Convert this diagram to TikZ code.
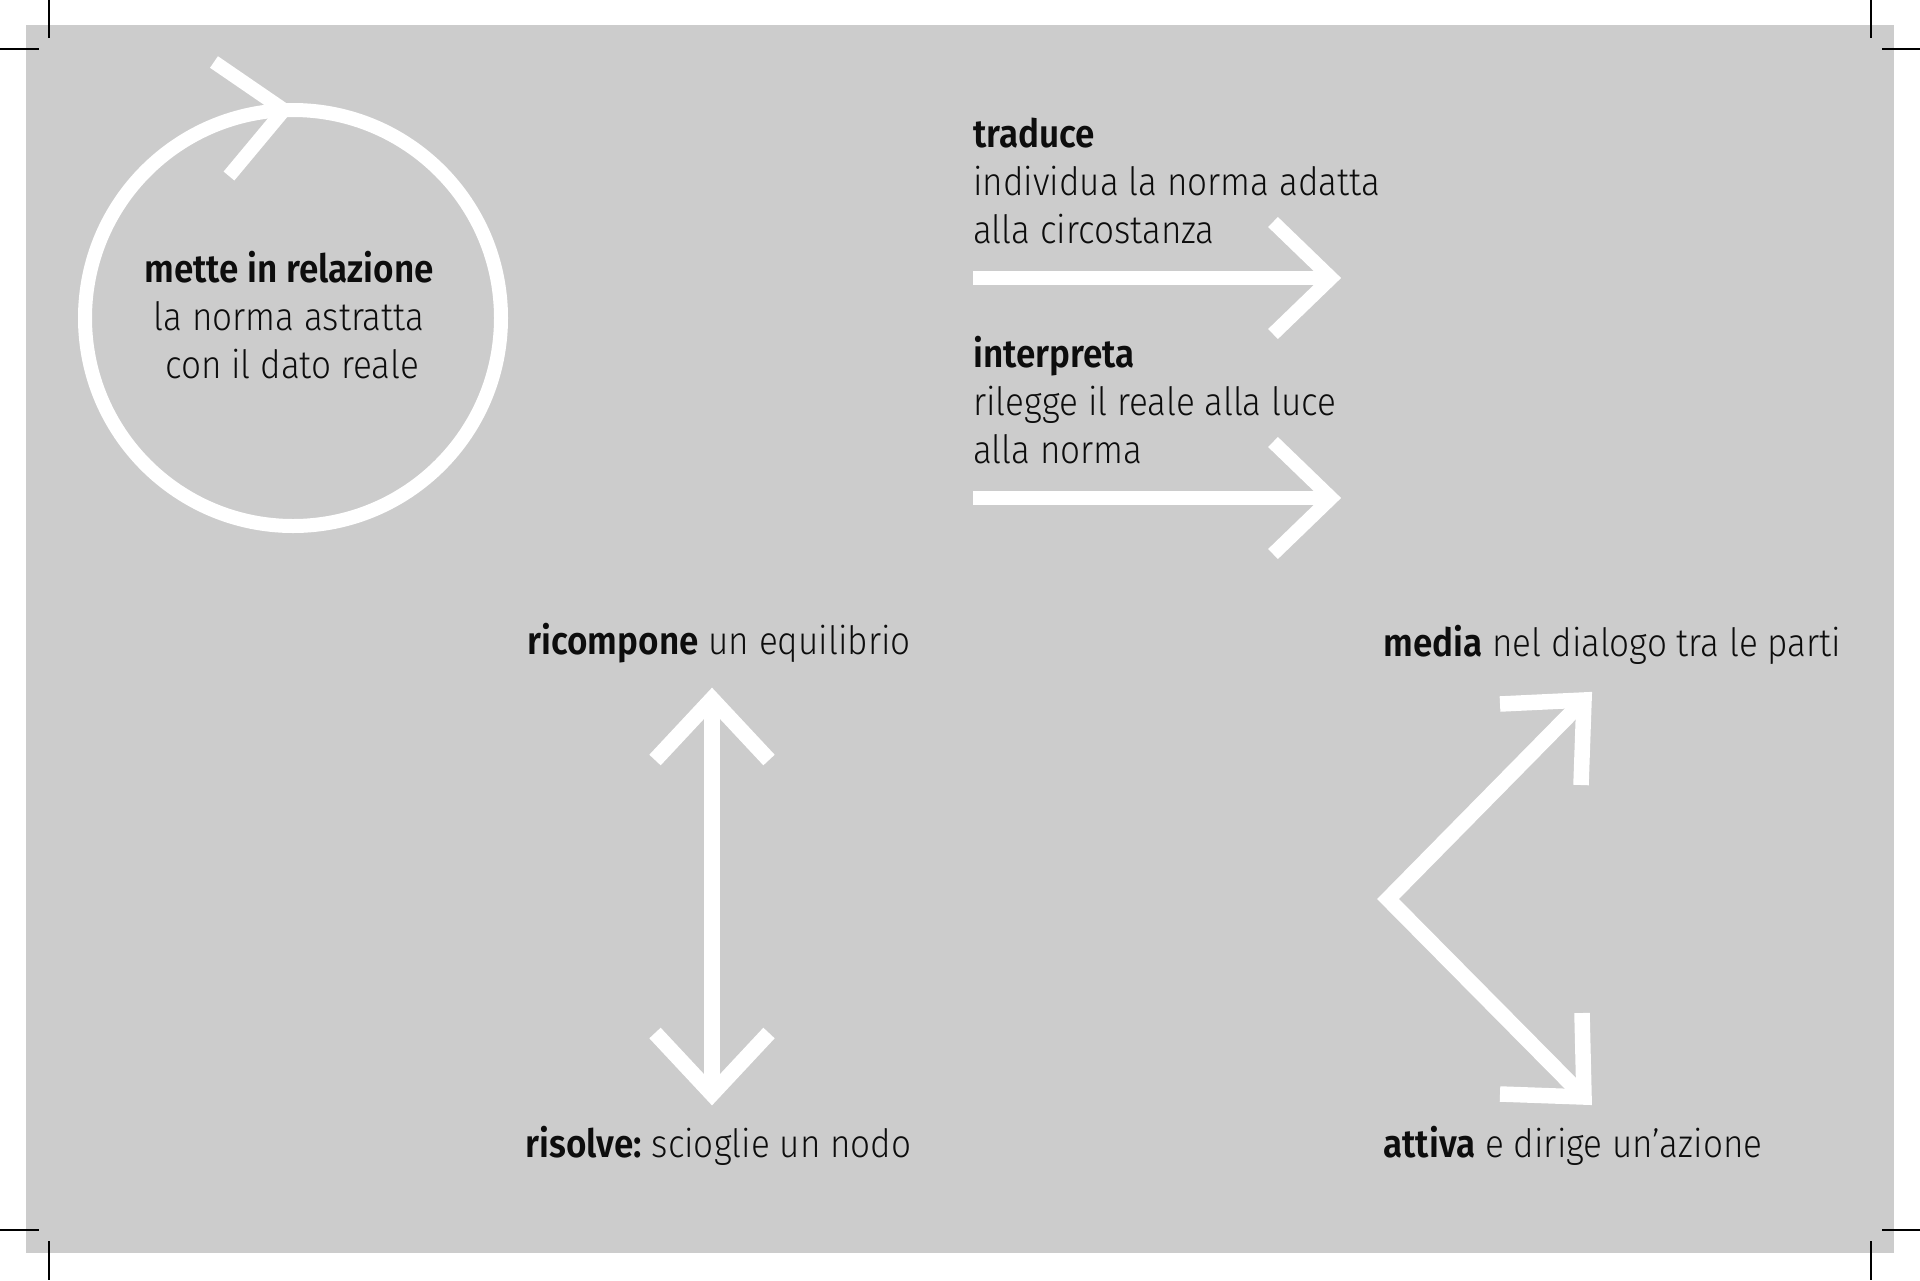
\documentclass[tikz,border=0pt]{standalone}
\usepackage{fontspec}
\setmainfont{Fira Sans}[UprightFont=* Light, BoldFont=* SemiBold, FakeStretch=0.9]
\definecolor{bg}{gray}{0.8}
\definecolor{ink}{gray}{0.05}
\frenchspacing
\begin{document}
\begin{tikzpicture}[x=0.5pt,y=-0.5pt,
  arrowline/.style={draw=white, line width=7pt, line join=miter, miter limit=10},
  thickarrow/.style={arrowline, line width=7.75pt},
  cropmark/.style={draw=black, line width=0.8pt},
  txt/.style={inner sep=0pt, text=ink, font=\fontsize{19.5pt}{24pt}\selectfont},
  lbl/.style={txt, anchor=base west},
  clbl/.style={txt, anchor=base}]
\useasboundingbox (0,0) rectangle (1920,1280);
\fill[bg] (26,25) rectangle (1894,1253);
% crop marks
\draw[cropmark] (49,0) -- (49,38);
\draw[cropmark] (0,49) -- (39,49);
\draw[cropmark] (1871,0) -- (1871,38);
\draw[cropmark] (1882,49) -- (1920,49);
\draw[cropmark] (0,1230) -- (39,1230);
\draw[cropmark] (49,1241) -- (49,1280);
\draw[cropmark] (1882,1230) -- (1920,1230);
\draw[cropmark] (1871,1241) -- (1871,1280);
% circle with arrowhead
\coordinate (cc) at (293,318);
\draw[arrowline] (cc) circle[radius=208];
\coordinate (ca1) at (214,62);
\coordinate (ct) at (284,110);
\coordinate (ca2) at (229,176);
\draw[arrowline] (ca1) -- (ct) -- (ca2);
\node[clbl, font=\fontsize{19.5pt}{24pt}\selectfont\bfseries] (m1) at (289,282) {mette in relazione};
\node[clbl] (m2) at (289,330) {la norma astratta};
\node[clbl] (m3) at (292,378) {con il dato reale};
% traduce block
\node[lbl, font=\fontsize{19.5pt}{24pt}\selectfont\bfseries] (t1) at (973,147) {traduce};
\node[lbl] (t2) at (973,195) {individua la norma adatta};
\node[lbl] (t3) at (973,243) {alla circostanza};
\coordinate (h1s) at (973,278);
\coordinate (h1t) at (1331,278);
\coordinate (h1a) at (1273,222);
\coordinate (h1b) at (1273,334);
\draw[arrowline] (h1s) -- (h1t);
\draw[arrowline] (h1a) -- (h1t) -- (h1b);
% interpreta block
\node[lbl, font=\fontsize{19.5pt}{24pt}\selectfont\bfseries] (i1) at (973,367) {interpreta};
\node[lbl] (i2) at (973,415) {rilegge il reale alla luce};
\node[lbl] (i3) at (973,463) {alla norma};
\coordinate (h2s) at (973,498);
\coordinate (h2t) at (1331,498);
\coordinate (h2a) at (1273,442);
\coordinate (h2b) at (1273,554);
\draw[arrowline] (h2s) -- (h2t);
\draw[arrowline] (h2a) -- (h2t) -- (h2b);
% vertical double arrow
\node[lbl] (r1) at (527,654) {\textbf{ricompone} un equilibrio};
\node[lbl] (r2) at (525,1157) {\textbf{risolve:} scioglie un nodo};
\coordinate (vt) at (712,699);
\coordinate (vb) at (712,1094);
\draw[thickarrow] (vt) -- (vb);
\draw[thickarrow] (655,760) -- (vt) -- (769,760);
\draw[thickarrow] (655,1033) -- (vb) -- (769,1033);
% diagonal arrows
\node[lbl] (d1) at (1383,656) {\textbf{media} nel dialogo tra le parti};
\node[lbl] (d2) at (1383,1157) {\textbf{attiva} e dirige un’azione};
\coordinate (dv) at (1388,899);
\coordinate (du) at (1584,700);
\coordinate (dl) at (1584,1097);
\draw[thickarrow] (du) -- (dv) -- (dl);
\draw[thickarrow] (1500,704) -- (du) -- (1581,785);
\draw[thickarrow] (1500,1094) -- (dl) -- (1582,1013);
\end{tikzpicture}
\end{document}
